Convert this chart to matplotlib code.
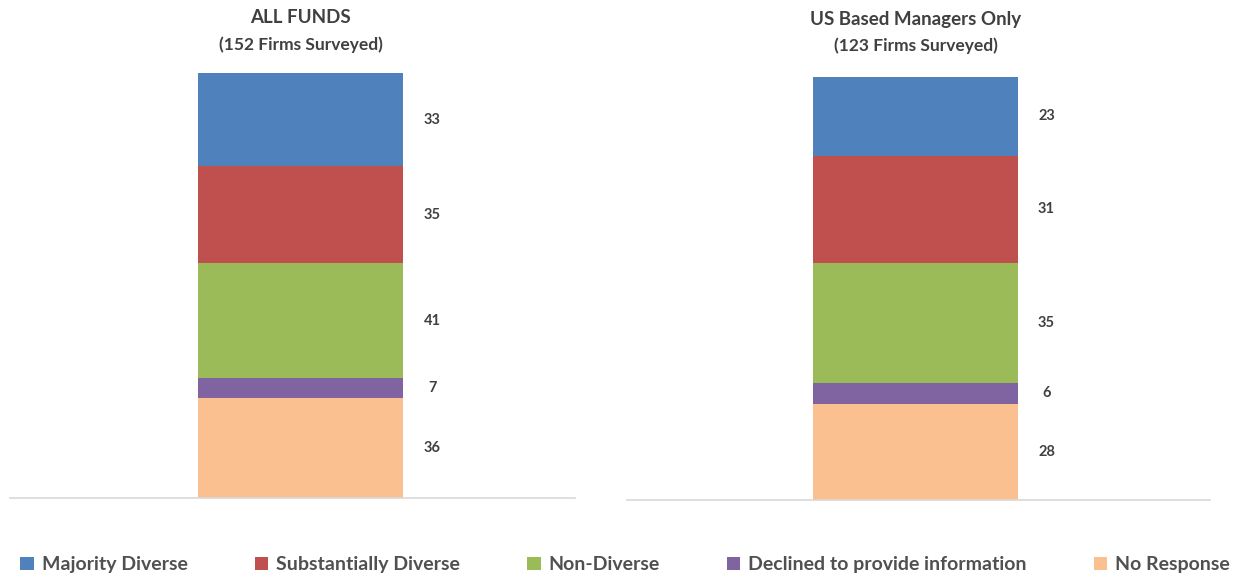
import numpy as np
import matplotlib.pyplot as plt
from matplotlib.patches import Patch

plt.rcParams['font.family'] = ['Lato', 'DejaVu Sans']

categories = ['Majority Diverse', 'Substantially Diverse', 'Non-Diverse',
              'Declined to provide information', 'No Response']
colors = ['#4F81BD', '#C0504D', '#9BBB59', '#8064A2', '#FAC090']

all_funds = [33, 35, 41, 7, 36]
us_only = [23, 31, 35, 6, 28]

text_col = '#404040'

fig = plt.figure(figsize=(12.4, 5.78), dpi=100)

panels = [
    # axes rect, bar center, bar width, label x, values, title, subtitle, title y, sub y
    ([0.008, 0.138, 0.456, 0.735], 0.514, 0.363, 0.747, all_funds,
     'ALL FUNDS', '(152 Firms Surveyed)', 1.132, 1.068),
    ([0.506, 0.135, 0.470, 0.732], 0.495, 0.352, 0.719, us_only,
     'US Based Managers Only', '(123 Firms Surveyed)', 1.135, 1.073),
]

for rect, xc, w, lx, vals, title, sub, ty, sy in panels:
    ax = fig.add_axes(rect)
    # stack from bottom: No Response first
    bottom = 0
    for v, c in zip(vals[::-1], colors[::-1]):
        ax.bar(xc, v, width=w, bottom=bottom, color=c, edgecolor='none')
        ax.text(lx, bottom + v / 2, str(v), ha='center', va='center',
                fontsize=10.5, fontweight='bold', color=text_col)
        bottom += v
    ax.set_xlim(0, 1)
    ax.set_ylim(0, sum(vals))
    for s in ['top', 'right', 'left']:
        ax.spines[s].set_visible(False)
    ax.spines['bottom'].set_color('#D9D9D9')
    ax.spines['bottom'].set_linewidth(1.2)
    ax.set_xticks([])
    ax.set_yticks([])
    ax.text(xc, ty, title, transform=ax.transAxes, ha='center', va='center',
            fontsize=13.5, fontweight='bold', color=text_col)
    ax.text(xc, sy, sub, transform=ax.transAxes, ha='center', va='center',
            fontsize=12.5, fontweight='bold', color=text_col)

handles = [Patch(facecolor=c, edgecolor='none') for c in colors]
fig.legend(handles, categories, loc='center', bbox_to_anchor=(0.504, 0.023),
           ncol=5, frameon=False, prop={'size': 14, 'weight': 'bold'},
           handlelength=0.7, handleheight=0.7, handletextpad=0.4,
           columnspacing=3.45, labelcolor='#505050')

fig.savefig('out.png', dpi=100)
